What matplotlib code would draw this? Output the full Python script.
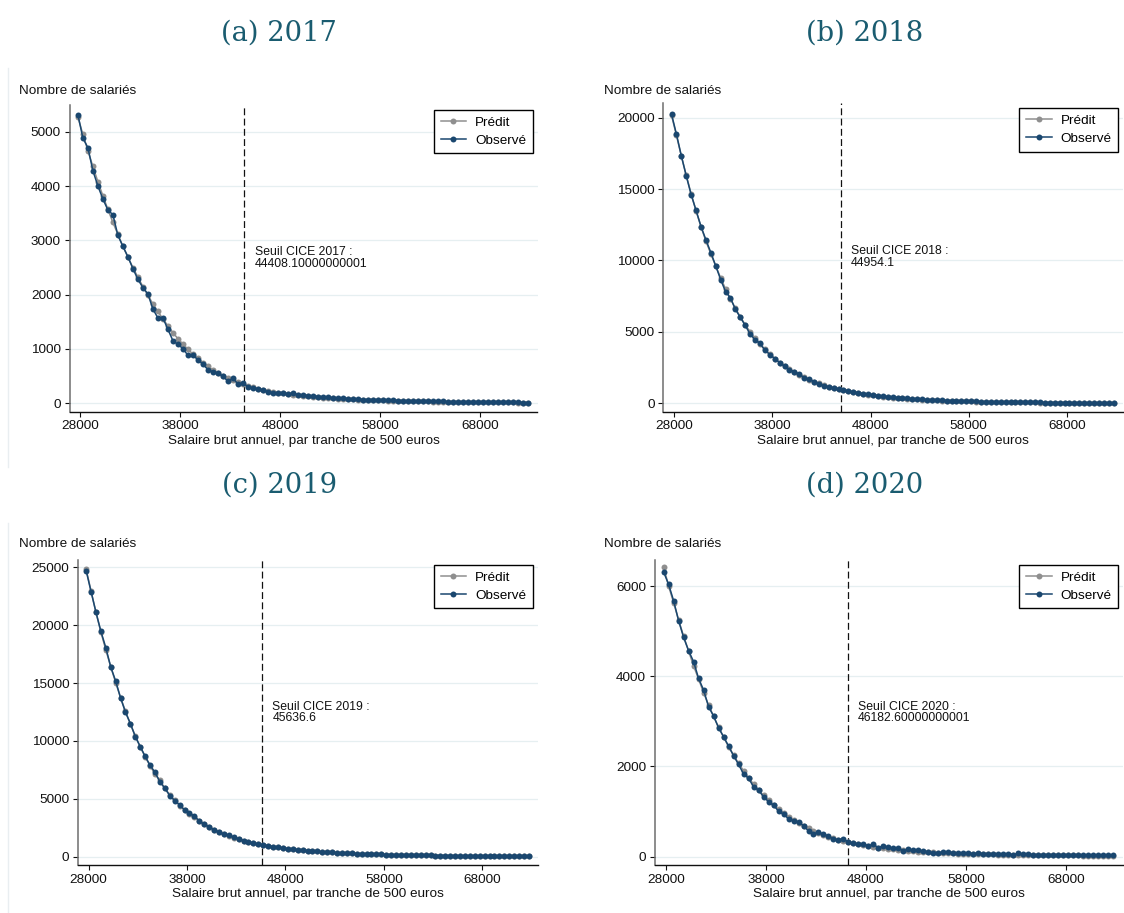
import matplotlib.pyplot as plt
import numpy as np
from matplotlib.lines import Line2D
from matplotlib.transforms import blended_transform_factory

plt.rcParams['font.family'] = ['Liberation Sans', 'DejaVu Sans']

# bins of 500 euros, first bin centre
x_start = 27750
bin_width = 500

panel_titles = ['(a) 2017', '(b) 2018', '(c) 2019', '(d) 2020']
years = ['2017', '2018', '2019', '2020']
thresholds = [44408.1, 44954.1, 45636.6, 46182.6]
threshold_labels = ['44408.10000000001', '44954.1', '45636.6', '46182.60000000001']

obs_2017 = [5313, 4883, 4706, 4282, 4000, 3761, 3558, 3472, 3092, 2890,
            2699, 2479, 2282, 2129, 2012, 1736, 1571, 1571, 1362, 1153,
            1086, 1006, 883, 883, 804, 718, 620, 571, 552, 497,
            405, 460, 356, 368, 307, 282, 264, 245, 215, 196,
            184, 196, 172, 184, 160, 153, 141, 135, 123, 123,
            110, 92, 98, 92, 86, 80, 80, 67, 67, 67,
            61, 61, 55, 61, 49, 49, 43, 37, 43, 37,
            37, 35, 33, 35, 30, 30, 28, 28, 25, 27,
            25, 22, 22, 20, 20, 18, 18, 15, 15, 14, 12]
pred_2017 = [5270, 4950, 4650, 4360, 4080, 3820, 3570, 3330, 3110, 2890,
             2690, 2500, 2320, 2150, 1990, 1830, 1690, 1555, 1425, 1300,
             1190, 1090, 995, 905, 825, 750, 680, 615, 560, 510,
             465, 425, 388, 355, 325, 298, 272, 250, 230, 212,
             196, 181, 168, 156, 145, 135, 126, 118, 110, 103,
             97, 91, 86, 81, 76, 72, 68, 64, 61, 58,
             55, 52, 49, 47, 45, 43, 41, 39, 37, 35,
             34, 32, 31, 30, 28, 27, 26, 25, 24, 23,
             22, 21, 20, 19, 18, 17, 16, 15, 14, 13, 12]

obs_2018 = [20234, 18830, 17310, 15906, 14596, 13497, 12374, 11439, 10550, 9614,
            8655, 7813, 7368, 6573, 6012, 5450, 4842, 4444, 4187, 3719,
            3415, 3135, 2854, 2596, 2339, 2222, 2035, 1801, 1684, 1520,
            1357, 1240, 1146, 1076, 1006, 936, 865, 800, 740, 680,
            630, 590, 540, 500, 460, 430, 400, 370, 340, 320,
            300, 280, 260, 240, 225, 210, 195, 180, 170, 160,
            150, 140, 130, 120, 115, 108, 100, 95, 90, 85,
            80, 75, 70, 66, 62, 58, 55, 52, 49, 46,
            44, 42, 40, 38, 36, 35, 33, 32, 31, 30, 29]
pred_2018 = [20150, 18750, 17300, 15950, 14650, 13450, 12350, 11350, 10450, 9600,
             8780, 8000, 7300, 6650, 6050, 5500, 5000, 4560, 4150, 3780,
             3440, 3130, 2850, 2600, 2370, 2160, 1980, 1810, 1660, 1520,
             1390, 1270, 1160, 1065, 980, 900, 830, 765, 705, 650,
             600, 555, 512, 472, 436, 403, 372, 344, 318, 295,
             274, 254, 236, 220, 205, 191, 178, 166, 155, 145,
             136, 127, 119, 112, 105, 99, 93, 88, 83, 78,
             74, 70, 66, 62, 59, 56, 53, 50, 47, 45,
             43, 41, 39, 37, 35, 34, 32, 31, 30, 29, 28]

obs_2019 = [24712, 22897, 21112, 19470, 18059, 16388, 15179, 13710, 12471, 11492,
            10369, 9505, 8669, 7892, 7287, 6452, 5904, 5271, 4839, 4493,
            4032, 3744, 3514, 3082, 2794, 2592, 2304, 2131, 1930, 1872,
            1670, 1555, 1382, 1296, 1152, 1094, 1008, 930, 860, 800,
            740, 690, 640, 600, 560, 520, 485, 450, 420, 390,
            365, 340, 318, 298, 280, 262, 246, 231, 217, 204,
            192, 181, 170, 160, 151, 142, 134, 126, 119, 112,
            106, 100, 95, 90, 85, 80, 76, 72, 68, 65,
            62, 59, 56, 53, 50, 48, 46, 44, 42, 40, 38]
pred_2019 = [24830, 22950, 21100, 19400, 17857, 16420, 15035, 13750, 12560, 11450,
             10420, 9480, 8620, 7840, 7130, 6596, 5900, 5350, 4860, 4420,
             4020, 3660, 3399, 3060, 2790, 2550, 2330, 2130, 1950, 1790,
             1650, 1515, 1395, 1285, 1180, 1090, 1005, 930, 860, 795,
             735, 685, 635, 595, 555, 515, 480, 447, 417, 388,
             362, 338, 316, 296, 278, 261, 245, 230, 216, 203,
             191, 180, 170, 160, 151, 142, 134, 126, 119, 112,
             106, 100, 95, 90, 85, 80, 76, 72, 68, 65,
             62, 59, 56, 53, 50, 48, 46, 44, 42, 40, 38]

obs_2020 = [6312, 6038, 5676, 5233, 4863, 4568, 4324, 3954, 3695, 3326,
            3119, 2860, 2661, 2454, 2239, 2047, 1833, 1737, 1552, 1471,
            1330, 1220, 1138, 1013, 939, 843, 791, 776, 687, 569,
            503, 540, 495, 458, 384, 370, 399, 318, 296, 281,
            281, 237, 273, 200, 237, 207, 192, 185, 133, 163,
            148, 140, 126, 103, 89, 81, 103, 96, 89, 81,
            81, 74, 67, 74, 67, 67, 59, 59, 59, 52,
            44, 74, 59, 52, 44, 45, 42, 44, 40, 40,
            38, 36, 38, 35, 33, 34, 32, 30, 30, 28, 27]
pred_2020 = [6423, 6000, 5632, 5250, 4890, 4560, 4228, 3940, 3636, 3360,
             3110, 2870, 2650, 2440, 2250, 2070, 1907, 1750, 1610, 1480,
             1360, 1250, 1145, 1050, 965, 885, 812, 745, 683, 626,
             575, 528, 485, 445, 410, 377, 347, 320, 296, 273,
             252, 233, 216, 200, 186, 173, 161, 150, 140, 131,
             122, 114, 107, 100, 94, 88, 83, 78, 74, 70,
             66, 62, 59, 56, 53, 51, 49, 47, 45, 43,
             41, 40, 38, 37, 36, 35, 34, 33, 32, 31,
             30, 29, 28, 27, 26, 25, 24, 23, 22, 21, 20]

observed = [obs_2017, obs_2018, obs_2019, obs_2020]
predicted = [pred_2017, pred_2018, pred_2019, pred_2020]

x_ticks = [28000, 38000, 48000, 58000, 68000]
y_ticks = [np.arange(0, 5001, 1000), np.arange(0, 20001, 5000),
           np.arange(0, 25001, 5000), np.arange(0, 6001, 2000)]

# layout in pixels of the 1124x913 canvas: left, top, right, bottom
W, H = 1124, 913
axes_px = [(69.6, 105, 537.5, 411.7), (663.2, 103.3, 1123, 411.7),
           (77.9, 560, 537.5, 865), (654.6, 560, 1123, 865)]
xlims = [(26920, 73710), (26900, 73700), (26913, 73620), (26850, 73720)]
ylims = [(-155, 5492), (-588, 21000), (-720, 25630), (-184, 6577)]
title_pos = [(279, 33), (865, 33), (280, 485), (865, 485)]
ylabel_pos = [(18.6, 91), (603.9, 91), (18.6, 544.3), (603.9, 544.3)]

c_obs = '#1a476f'
c_pred = '#8f8f8f'
c_title = '#1a5c70'
fs = 9.7

fig = plt.figure(figsize=(W / 100, H / 100), dpi=100)

# faint frames of the left sub-images
for y0, y1 in [(68, 467), (523, 913)]:
    fig.add_artist(Line2D([7.7 / W, 7.7 / W], [1 - y0 / H, 1 - y1 / H],
                          color='#e9eef1', lw=1))

for i in range(4):
    l, t, r, b = axes_px[i]
    ax = fig.add_axes([l / W, 1 - b / H, (r - l) / W, (b - t) / H])
    x = np.arange(len(observed[i])) * bin_width + x_start

    ax.plot(x, predicted[i], color=c_pred, lw=1.1, marker='o', ms=4.3,
            mew=0, label='Prédit', zorder=3)
    ax.plot(x, observed[i], color=c_obs, lw=1.1, marker='o', ms=4.3,
            mew=0, label='Observé', zorder=4)

    ax.axvline(thresholds[i], color='#111111', lw=0.9, ls=(0, (5.5, 2.7)), zorder=2)
    trans = blended_transform_factory(ax.transData, ax.transAxes)
    ax.annotate('Seuil CICE ' + years[i] + ' :\n' + threshold_labels[i],
                xy=(thresholds[i], 0.539), xycoords=trans,
                xytext=(7.3, 0), textcoords='offset points',
                ha='left', va='top', fontsize=8.8, linespacing=0.98,
                color='#111111')

    ax.set_xlim(*xlims[i])
    ax.set_ylim(*ylims[i])
    ax.set_xticks(x_ticks)
    ax.set_yticks(y_ticks[i])
    ax.grid(axis='y', color='#e6eff1', lw=0.9, zorder=0)
    ax.set_axisbelow(True)
    for s in ['top', 'right']:
        ax.spines[s].set_visible(False)
    ax.spines['left'].set_color('#6e6e6e')
    ax.spines['left'].set_linewidth(1.1)
    ax.spines['bottom'].set_color('#111111')
    ax.spines['bottom'].set_linewidth(1.0)
    ax.tick_params(axis='both', direction='out', length=3.6, width=0.8,
                   labelsize=fs, colors='#111111', pad=2.6)
    ax.set_xlabel('Salaire brut annuel, par tranche de 500 euros',
                  fontsize=fs, labelpad=2, color='#111111')

    leg = ax.legend(loc='upper right', fontsize=fs, frameon=True, fancybox=False,
                    framealpha=1, edgecolor='black', borderaxespad=0.35,
                    handlelength=1.9, handletextpad=0.65, labelspacing=0.4,
                    borderpad=0.5, numpoints=1)
    leg.get_frame().set_linewidth(1.0)

    fig.text(ylabel_pos[i][0] / W, 1 - ylabel_pos[i][1] / H, 'Nombre de salariés',
             ha='left', va='center', fontsize=fs, color='#111111')
    fig.text(title_pos[i][0] / W, 1 - title_pos[i][1] / H, panel_titles[i],
             ha='center', va='center', fontsize=19.7, color=c_title,
             family=['DejaVu Serif'])

fig.savefig('out.png', dpi=100, facecolor='white')
